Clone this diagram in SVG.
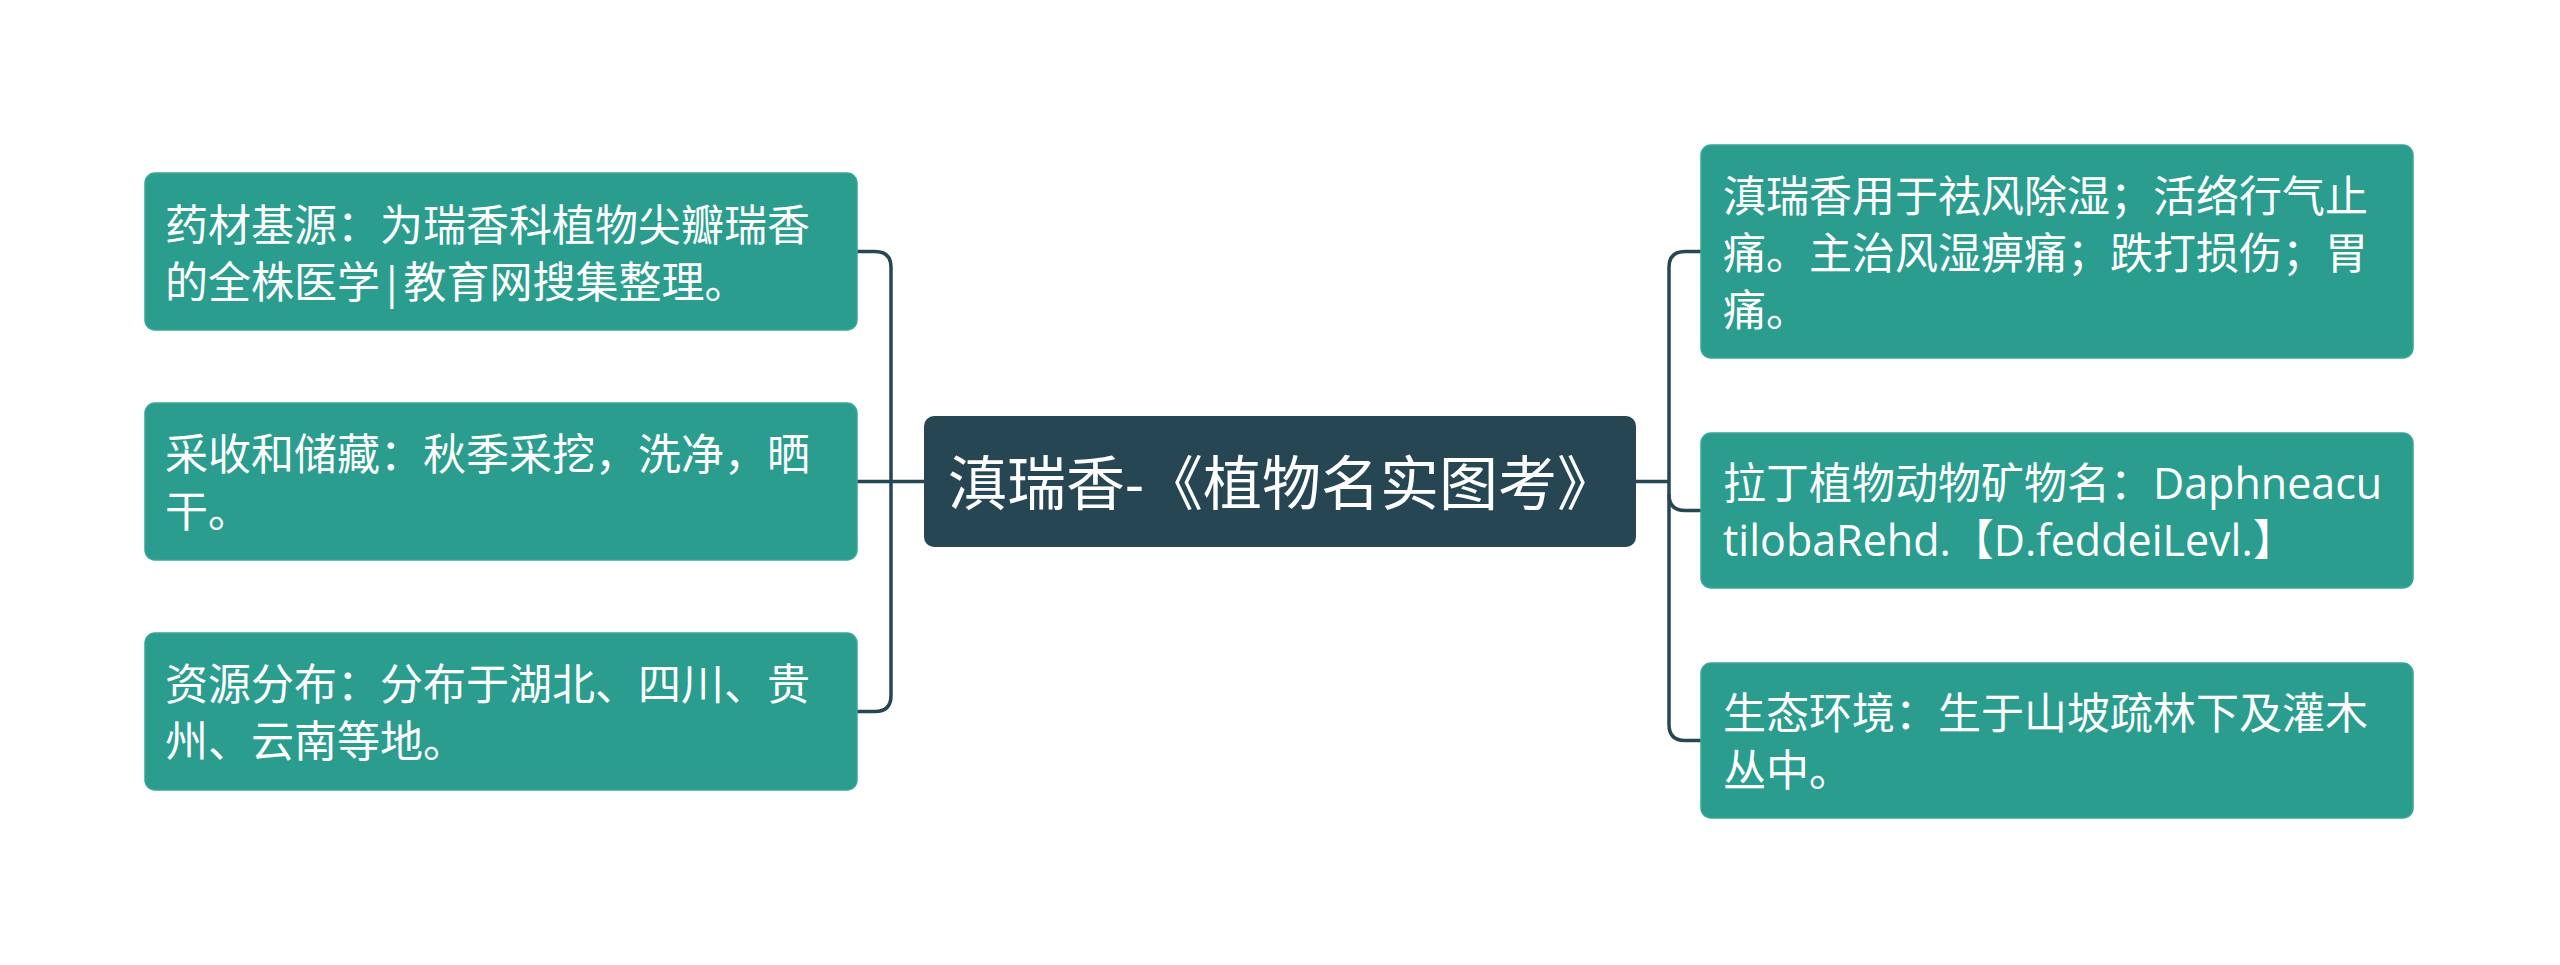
<svg xmlns="http://www.w3.org/2000/svg" width="2560" height="965" viewBox="0 0 2560 965">
<style>
.box{fill:#2a9d8f;stroke:#3aa596;stroke-width:1.5}
.root{fill:#264653}
.t{font-family:"Open Sans","Noto Sans CJK SC",sans-serif;font-size:43px;fill:#ffffff;dominant-baseline:central}
.rt{font-family:"Open Sans","Noto Sans CJK SC",sans-serif;font-size:59px;fill:#ffffff;dominant-baseline:central}
.c{fill:none;stroke:#264653;stroke-width:3.5}
</style>
<rect width="2560" height="965" fill="#ffffff"/>
<g id="connectors">
<path class="c" d="M924 481.5 H857"/>
<path class="c" d="M857 251.5 H875 Q891 251.5 891 267.5 V695.5 Q891 711.5 875 711.5 H857"/>
<path class="c" d="M1636 481.5 H1669"/>
<path class="c" d="M1701 251.5 H1685 Q1669 251.5 1669 267.5 V724.5 Q1669 740.5 1685 740.5 H1701"/>
<path class="c" d="M1669 494.5 Q1669 510.5 1685 510.5 H1701"/>
</g>
<g id="root">
<rect class="root" x="924" y="416" width="712" height="131" rx="10"/>
<text class="rt" x="948" y="482">滇瑞香-《植物名实图考》</text>
</g>
<g id="l1">
<rect class="box" x="145" y="173" width="712" height="157" rx="10"/>
<text class="t" x="165" y="224">药材基源：为瑞香科植物尖瓣瑞香</text>
<text class="t" x="165" y="281">的全株医学|教育网搜集整理。</text>
</g>
<g id="l2">
<rect class="box" x="145" y="403" width="712" height="157" rx="10"/>
<text class="t" x="165" y="453">采收和储藏：秋季采挖，洗净，晒</text>
<text class="t" x="165" y="510">干。</text>
</g>
<g id="l3">
<rect class="box" x="145" y="633" width="712" height="157" rx="10"/>
<text class="t" x="165" y="683">资源分布：分布于湖北、四川、贵</text>
<text class="t" x="165" y="740">州、云南等地。</text>
</g>
<g id="r1">
<rect class="box" x="1701" y="145" width="712" height="213" rx="10"/>
<text class="t" x="1723" y="195">滇瑞香用于祛风除湿；活络行气止</text>
<text class="t" x="1723" y="252">痛。主治风湿痹痛；跌打损伤；胃</text>
<text class="t" x="1723" y="309">痛。</text>
</g>
<g id="r2">
<rect class="box" x="1701" y="433" width="712" height="155" rx="10"/>
<text class="t" x="1723" y="482">拉丁植物动物矿物名：Daphneacu</text>
<text class="t" x="1723" y="539">tilobaRehd.【D.feddeiLevl.】</text>
</g>
<g id="r3">
<rect class="box" x="1701" y="663" width="712" height="155" rx="10"/>
<text class="t" x="1723" y="712">生态环境：生于山坡疏林下及灌木</text>
<text class="t" x="1723" y="769">丛中。</text>
</g>
</svg>
